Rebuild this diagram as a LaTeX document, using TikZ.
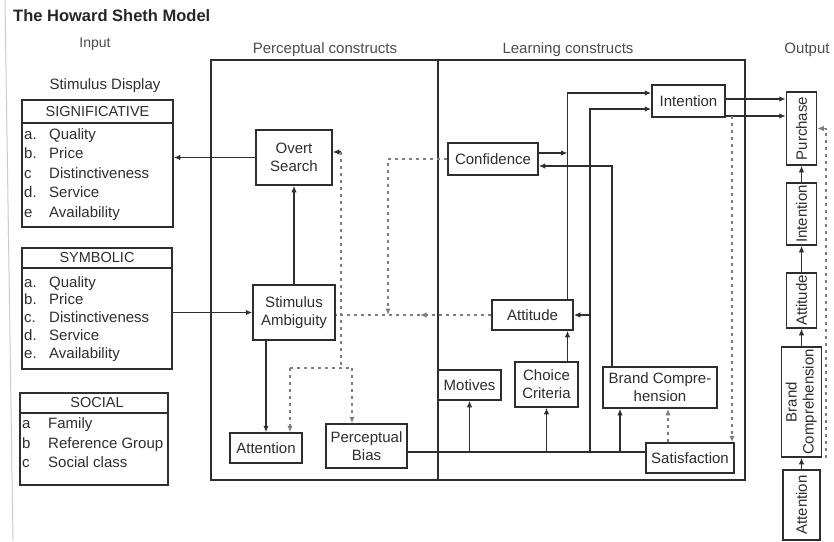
\documentclass[tikz,border=0pt]{standalone}
\usepackage{fontspec}
\setmainfont{Liberation Sans}
\usetikzlibrary{arrows.meta,calc}
\definecolor{ink}{HTML}{2E2E2E}
\definecolor{faint}{HTML}{7E7E7E}
\newcommand\lblfont{\fontsize{15}{18}\selectfont}
\newcommand\hdrfont{\fontsize{14.5}{17}\selectfont}
\begin{document}
\begin{tikzpicture}[x=1pt,y=-1pt,
  box/.style={draw=ink, line width=1.5pt, fill=white, inner sep=0pt, align=center, font=\lblfont, text=ink},
  listbox/.style={draw=ink, line width=1.5pt, inner sep=0pt},
  link/.style={draw=ink, line width=1.4pt},
  tip/.style={-{Latex[length=6.5pt,width=5.5pt]}},
  fb/.style={draw=faint, line width=1.6pt, dash pattern=on 3pt off 4pt},
  frame/.style={draw=ink, line width=1.7pt},
  txt/.style={font=\lblfont, text=ink, inner sep=0pt},
  head/.style={font=\lblfont, text=ink!85, inner sep=0pt},
]
\useasboundingbox (0,0) rectangle (834,541);
\fill[white] (0,0) rectangle (834,541);
% margin rule of the page
\draw[gray!40, line width=1pt] (5,0) -- (13,541);

% headings
\node[anchor=west, font=\fontsize{16.5}{20}\selectfont\bfseries, text=black!85, inner sep=0pt] (title) at (13,16) {The Howard Sheth Model};
\node[head, font=\fontsize{14}{17}\selectfont] (h-in) at (95,44) {Input};
\node[head] (h-pc) at (325,50) {Perceptual constructs};
\node[head] (h-lc) at (568,50) {Learning constructs};
\node[head] (h-out) at (807,50) {Output};
\node[txt] (h-sd) at (105,86) {Stimulus Display};

% construct frames
\draw[frame] (211,60) rectangle (745,480);
\draw[frame] (438,60) -- (438,480);

% stimulus display lists
\node[listbox, minimum width=151, minimum height=127] (sig) at (97.5,163.5) {};
\node[txt, font=\hdrfont] (sig-h) at (97.5,112) {SIGNIFICATIVE};
\draw[link] (sig.west |- 0,123) -- (sig.east |- 0,123);
\foreach \k/\l/\w/\b in {1/a./Quality/139, 2/b./Price/158.5, 3/c/Distinctiveness/178, 4/d./Service/197.5, 5/e/Availability/217}
  \node[txt, anchor=base west] (sig-\k) at (24,\b) {\makebox[25pt][l]{\l}\w};

\node[listbox, minimum width=150, minimum height=121] (sym) at (97,308.5) {};
\node[txt, font=\hdrfont] (sym-h) at (97,258) {SYMBOLIC};
\draw[link] (sym.west |- 0,268) -- (sym.east |- 0,268);
\foreach \k/\l/\w/\b in {1/a./Quality/287, 2/b./Price/304.75, 3/c./Distinctiveness/322.5, 4/d./Service/340.25, 5/e./Availability/358}
  \node[txt, anchor=base west] (sym-\k) at (24,\b) {\makebox[25pt][l]{\l}\w};

\node[listbox, minimum width=148, minimum height=92] (soc) at (94,439) {};
\node[txt, font=\hdrfont] (soc-h) at (97,403) {SOCIAL};
\draw[link] (soc.west |- 0,413) -- (soc.east |- 0,413);
\foreach \k/\l/\w/\b in {1/a/Family/428, 2/b/Reference Group/448, 3/c/Social class/467}
  \node[txt, anchor=base west] (soc-\k) at (22,\b) {\makebox[26pt][l]{\l}\w};

% perceptual constructs
\node[box, minimum width=76, minimum height=55] (os) at (294,157.5) {Overt\\Search};
\node[box, minimum width=82, minimum height=55] (sa) at (294,312.5) {Stimulus\\Ambiguity};
\node[box, minimum width=72, minimum height=30] (at) at (266,448) {Attention};
\node[box, minimum width=81, minimum height=44] (pb) at (366.5,446) {Perceptual\\Bias};

% learning constructs
\node[box, minimum width=90, minimum height=32] (co) at (493,159) {Confidence};
\node[box, minimum width=73, minimum height=32] (in) at (688.5,101) {Intention};
\node[box, minimum width=81, minimum height=30] (au) at (532.5,315) {Attitude};
\node[box, minimum width=63, minimum height=30] (mo) at (469.5,385) {Motives};
\node[box, minimum width=63, minimum height=45] (cc) at (546.5,384.5) {Choice\\Criteria};
\node[box, minimum width=114, minimum height=41] (bc) at (660,387.5) {Brand Compre-\\hension};
\node[box, minimum width=88, minimum height=30] (sf) at (690,458) {Satisfaction};

% output column
\node[box, minimum width=30, minimum height=73] (pu) at (801.5,128.5) {\rotatebox{90}{Purchase}};
\node[box, minimum width=30, minimum height=62] (inr) at (801.5,214) {\rotatebox{90}{Intention}};
\node[box, minimum width=30, minimum height=55] (aur) at (801.5,300.5) {\rotatebox{90}{Attitude}};
\node[box, minimum width=40, minimum height=110] (bcr) at (801.5,402) {\rotatebox{90}{\begin{tabular}{@{}c@{}}Brand\\[-1pt]Comprehension\end{tabular}}};
\node[box, minimum width=37, minimum height=70] (atr) at (801.5,505) {\rotatebox{90}{Attention}};

% stimulus display links
\draw[link,tip] (os.west) -- (os.west -| sig.east);
\draw[link,tip] (sym.east |- sa.west) -- (sa.west);
\draw[link,tip] (sa.north) -- (os.south);
\draw[link,tip] (at.north |- sa.south) -- (at.north);

% feedback from overt search to attention and bias
\coordinate (j1) at (341,152);
\coordinate (j2) at (290,368);
\coordinate (j3) at (352,368);
\draw[link,tip] (j1) -- (j1 -| os.east);
\draw[fb] (j1) -- (j1 |- j2);
\draw[fb] (j2) -- (j3);
\draw[fb,tip] (j3) -- (j3 |- pb.north);
\draw[fb,tip] (j2) -- (j2 |- at.north);

% attitude and confidence feedback to ambiguity
\coordinate (j4) at (420,315);
\coordinate (j5) at (388,159);
\draw[fb,tip] (au.west) -- (j4);
\draw[fb] (j4) -- (sa.east |- j4);
\draw[fb,tip] (co.west) -- (j5) -- (j5 |- j4);

% bias and satisfaction bus
\coordinate (bus) at (0,452);
\coordinate (iv) at (590,452);
\coordinate (bcl) at (620,452);
\coordinate (av) at ([xshift=35pt]au.north);
\draw[link] (pb.east |- bus) -- (sf.west |- bus);
\draw[link,tip] (mo.south |- bus) -- (mo.south);
\draw[link,tip] (cc.south |- bus) -- (cc.south);
\draw[link,tip] (bcl) -- (bcl |- bc.south);
\draw[link,tip] (iv) |- ([yshift=-8pt]in.west);

% learning links
\draw[link,tip] (av) |- ([yshift=8pt]in.west);
\draw[link,tip] ([yshift=6pt]co.east) -- ([yshift=6pt]co.east -| av);
\draw[link,tip] ([xshift=-48pt]bc.north) |- ([yshift=-7pt]co.east);
\draw[link,tip] (iv |- au.east) -- (au.east);
\draw[link,tip] (cc.north -| av) -- (au.south -| av);
\draw[fb,tip] ([xshift=-22pt]sf.north) -- ([xshift=-22pt]sf.north |- bc.south);

% intention to purchase
\draw[link,tip] ([yshift=2pt]in.east) -- ([yshift=2pt]in.east -| pu.west);
\draw[link,tip] ([yshift=-15pt]in.east) -- ([yshift=-15pt]in.east -| pu.west);
\coordinate (pf) at (732,116);
\draw[fb,tip] (pf) -- (pf |- sf.north);

% output chain
\draw[link,tip] (inr.north) -- (pu.south);
\draw[link,tip] (aur.north) -- (inr.south);
\draw[link,tip] (bcr.north) -- (aur.south);
\draw[link,tip] (atr.north) -- (bcr.south);
\coordinate (rd) at (826,458);
\draw[fb,tip] (rd) |- (pu.east);
\end{tikzpicture}
\end{document}
